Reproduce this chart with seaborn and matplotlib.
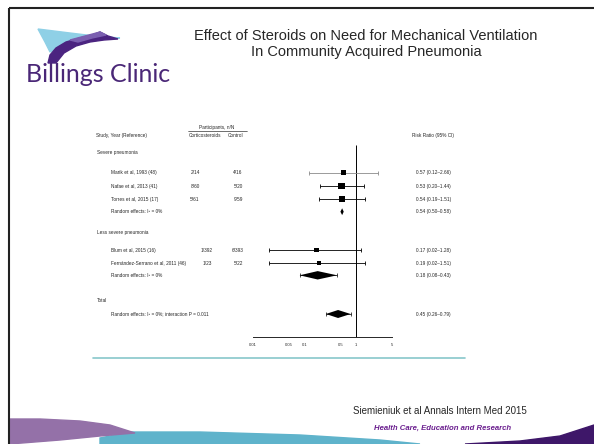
import matplotlib
matplotlib.use("Agg")
import matplotlib.pyplot as plt
from matplotlib.ticker import NullLocator
import seaborn as sns
import pandas as pd

# Study-level data (risk ratio of mechanical ventilation, steroids vs control)
studies = ["Marik et al, 1993 (48)", "Nafae et al, 2013 (41)", "Torres et al, 2015 (17)",
           "Blum et al, 2015 (16)", "Fernández-Serrano et al, 2011 (46)"]
study_group = [0, 0, 0, 1, 1]
cortico = ["2/14", "8/60", "5/61", "1/392", "1/23"]
control = ["4/16", "5/20", "9/59", "6/393", "5/22"]
rr = [0.57, 0.53, 0.54, 0.17, 0.19]
rr_lo = [0.12, 0.20, 0.19, 0.02, 0.02]
rr_hi = [2.66, 1.44, 1.51, 1.28, 1.51]
weights = [20, 40, 36, 18, 14]

# Pooled estimates
group_names = ["Severe pneumonia", "Less severe pneumonia", "Total"]
pooled_rr = [0.54, 0.18, 0.45]
pooled_lo = [0.50, 0.08, 0.26]
pooled_hi = [0.58, 0.43, 0.79]
pooled_text = ["Random effects: I² = 0%", "Random effects: I² = 0%",
               "Random effects: I² = 0%; interaction P = 0.011"]

tick_values = [0.01, 0.05, 0.1, 0.5, 1, 5]
tick_labels = ["0.01", "0.05", "0.1", "0.5", "1", "5"]

# row layout (pixels from top of slide)
study_y = [172.7, 186, 199.3, 250, 263]
pooled_y = [211.7, 275.3, 314]
group_y = [152, 232, 300]
AXIS_Y = 337

sns.set_style("white")
plt.rcParams['font.family'] = ['Liberation Sans', 'DejaVu Sans']

fig = plt.figure(figsize=(5.94, 4.44), dpi=100)

# background axes in slide pixel coordinates (decoration + text columns)
bg = fig.add_axes([0, 0, 1, 1])
bg.set_xlim(0, 594)
bg.set_ylim(444, 0)
bg.axis('off')

# slide frame
bg.plot([8.5, 8.5], [8.5, 444], color='#222222', lw=1.5, solid_capstyle='butt')
bg.plot([8.5, 594], [8.5, 8.5], color='#222222', lw=1.5, solid_capstyle='butt')

# logo
bg.fill([38, 70, 95, 120, 105, 90, 70, 58, 50, 45], [29, 33, 36, 38, 38, 38, 42, 48, 52, 42], color='#8fd0e6')
bg.fill([48, 50, 56, 66, 80, 92, 100, 108, 118, 104, 90, 76, 64, 56],
        [63, 55, 48, 42, 38, 35, 32, 36, 39, 40, 42, 46, 53, 63], color='#4b2480')
bg.fill([70, 85, 100, 106, 92, 78], [40, 36, 32, 35, 38, 42], color='#7b5fb0')
bg.text(26, 75, "Billings Clinic", fontsize=18, color='#4a2777', family=['Lato', 'DejaVu Sans'],
        va='center', ha='left')

# slide title
bg.text(366, 36, "Effect of Steroids on Need for Mechanical Ventilation", fontsize=10.5, ha='center', va='center')
bg.text(366, 52, "In Community Acquired Pneumonia", fontsize=10.5, ha='center', va='center')

# table text
fs = 3.4
bg.text(96, 135, "Study, Year (Reference)", fontsize=fs, va='center')
bg.text(217, 127, "Participants, n/N", fontsize=fs, va='center', ha='center')
bg.plot([188, 247], [131, 131], color='black', lw=0.4)
bg.text(205, 135, "Corticosteroids", fontsize=fs, va='center', ha='center')
bg.text(236, 135, "Control", fontsize=fs, va='center', ha='center')
bg.text(412, 135, "Risk Ratio (95% CI)", fontsize=fs, va='center')

for name, gy in zip(group_names, group_y):
    bg.text(97, gy, name, fontsize=fs, va='center')

for i, name in enumerate(studies):
    y = study_y[i]
    bg.text(111, y, name, fontsize=fs, va='center')
    bg.text(195 + 12 * study_group[i], y, cortico[i], fontsize=fs, va='center', ha='center')
    bg.text(238, y, control[i], fontsize=fs, va='center', ha='center')
    bg.text(416, y, f"{rr[i]:.2f} ({rr_lo[i]:.2f}–{rr_hi[i]:.2f})", fontsize=fs, va='center')

for i, txt in enumerate(pooled_text):
    y = pooled_y[i]
    bg.text(111, y, txt, fontsize=fs, va='center')
    bg.text(416, y, f"{pooled_rr[i]:.2f} ({pooled_lo[i]:.2f}–{pooled_hi[i]:.2f})", fontsize=fs, va='center')

# separator + footer
bg.plot([93, 465], [357.5, 357.5], color='#88c7cb', lw=1.2)
bg.text(527, 411, "Siemieniuk et al Annals Intern Med 2015", fontsize=7, ha='right', va='center')
bg.text(443, 428, "Health Care, Education and Research", fontsize=5.6, ha='center', va='center',
        style='italic', weight='bold', color='#6b1f8f')

# bottom swooshes
bg.fill([100, 130, 200, 300, 380, 420, 420, 100], [438, 432, 432, 435, 440, 444, 444, 444], color='#5fb3cb')
bg.fill([9.5, 40, 80, 110, 135, 100, 60, 9.5], [419, 419, 421, 425, 433, 436, 440, 444], color='#9471a8')
bg.fill([465, 520, 560, 594, 594], [444, 441, 436, 425, 444], color='#3e1769')

# forest plot axes, log scale
ax = fig.add_axes([240 / 594, 0, 160 / 594, 1])
ax.patch.set_alpha(0)
ax.set_xscale('log')
ax.set_xlim(10 ** -2.2594, 10 ** 0.8608)
ax.set_ylim(444, 0)

ax.vlines(1, 145, AXIS_Y, color='black', lw=0.7)

for i in range(len(studies)):
    col = '#8a8a8a' if i == 0 else 'black'
    ax.errorbar(rr[i], study_y[i], xerr=[[rr[i] - rr_lo[i]], [rr_hi[i] - rr[i]]], fmt='none',
                ecolor=col, elinewidth=0.6, capsize=1.4, capthick=0.6)

df = pd.DataFrame({"rr": rr, "y": study_y, "w": weights})
sns.scatterplot(data=df, x="rr", y="y", size="w", sizes=(9, 22), marker='s', color='black',
                linewidth=0, legend=False, ax=ax, zorder=3)

half_h = [3.4, 4.2, 4.0]
for i in range(len(pooled_rr)):
    y = pooled_y[i]
    h = half_h[i]
    if i > 0:
        ax.errorbar(pooled_rr[i], y, xerr=[[pooled_rr[i] - pooled_lo[i]], [pooled_hi[i] - pooled_rr[i]]],
                    fmt='none', ecolor='black', elinewidth=0.5, capsize=1.3, capthick=0.5)
    ax.fill([pooled_lo[i], pooled_rr[i], pooled_hi[i], pooled_rr[i]], [y, y - h, y, y + h],
            color='black', lw=0, zorder=3)

for s in ['top', 'right', 'left']:
    ax.spines[s].set_visible(False)
ax.spines['bottom'].set_position(('data', AXIS_Y))
ax.spines['bottom'].set_bounds(0.01, 5)
ax.spines['bottom'].set_linewidth(0.7)
ax.set_xticks(tick_values)
ax.set_xticklabels(tick_labels)
ax.xaxis.set_minor_locator(NullLocator())
ax.tick_params(axis='x', direction='inout', length=6, width=0.7, labelsize=3, pad=1)
ax.set_yticks([])
ax.set_xlabel("")
ax.set_ylabel("")

fig.savefig("out.png", dpi=100)
